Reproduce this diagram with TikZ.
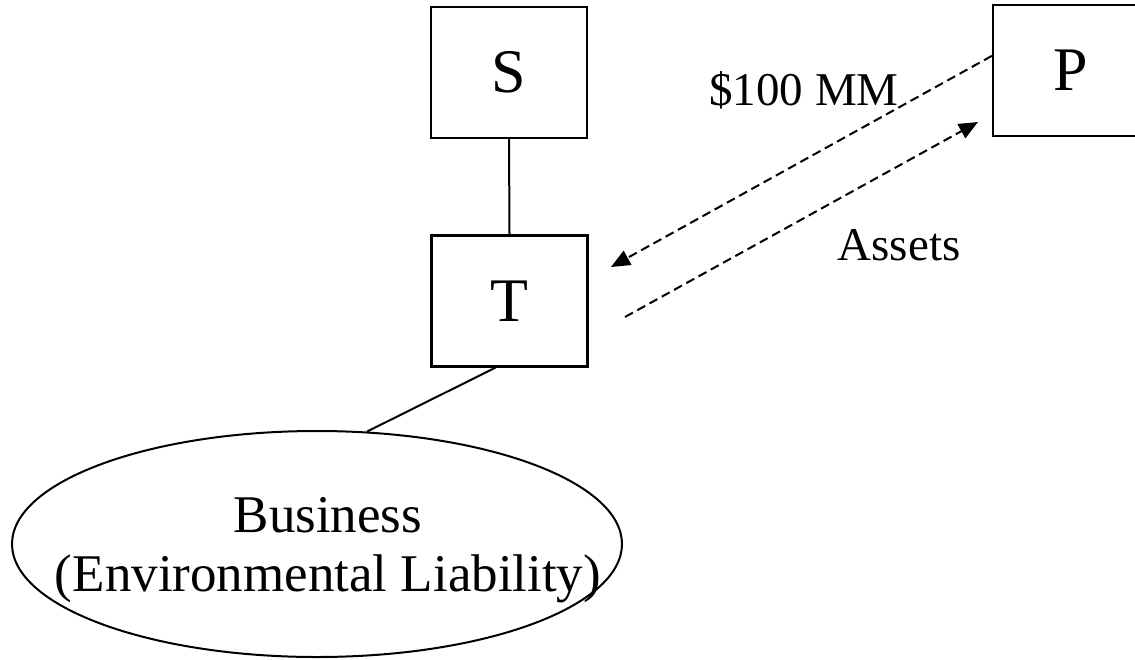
\documentclass[tikz,border=0pt]{standalone}
\usepackage{fontspec}
\setmainfont{Liberation Serif}
\usetikzlibrary{arrows.meta,shapes.geometric,calc}
\begin{document}
\begin{tikzpicture}[x=1pt,y=-1pt,
  boxnode/.style={draw,line width=2.2pt,minimum width=156pt,minimum height=131pt,inner sep=0pt,font=\fontsize{62}{62}\selectfont},
  bubble/.style={draw,ellipse,line width=2pt,minimum width=610pt,minimum height=226pt,inner sep=0pt},
  bubbletext/.style={align=center,inner sep=0pt,font=\fontsize{53}{59}\selectfont},
  link/.style={line width=2pt},
  flow/.style={line width=2pt,dash pattern=on 9pt off 5pt,-{Triangle[length=19pt,width=16pt]}},
  lbl/.style={font=\fontsize{47}{47}\selectfont,inner sep=0pt,anchor=base}]
\useasboundingbox (0,0) rectangle (1135,659);
\clip (0,0) rectangle (1135,659);
\node[boxnode] (S) at (509,72.5) {S};
\node[boxnode] (T) at (509.5,301) {T};
\node[boxnode] (P) at (1071,70.5) {P};
\node[bubble,label={[bubbletext,xshift=11pt,yshift=-6pt]center:Business\\(Environmental Liability)}] (B) at (317,544) {};
\draw[link] (S.south) -- (T.north);
\draw[link] ([xshift=-14pt]T.south) -- (B.66);
\coordinate (ua) at ($(P.north west)!0.39!(P.south west)$);
\coordinate (ub) at (611,267);
\coordinate (la) at (625,317);
\coordinate (lb) at (978,122);
\draw[flow] (ua) -- (ub);
\draw[flow] (la) -- (lb);
\node[lbl] (m) at (804,105) {\$100 MM};
\node[lbl] (a) at (899,260) {Assets};
\end{tikzpicture}
\end{document}
